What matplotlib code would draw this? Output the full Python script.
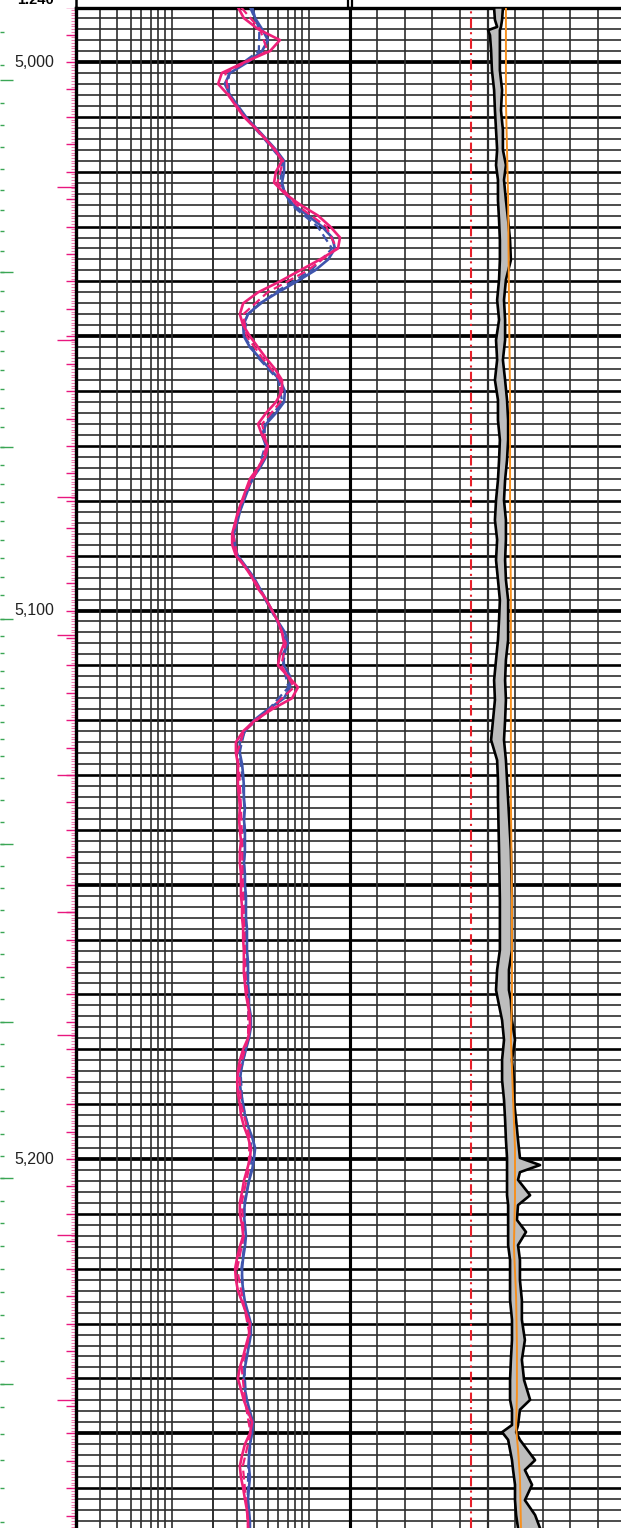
import numpy as np
import matplotlib
matplotlib.use("Agg")
import matplotlib.pyplot as plt
from matplotlib.lines import Line2D

# ---------------- data ----------------
# resistivity curves (ohm-m), sampled every 2 ft
res_depth = np.arange(4990, 5270, 2)
res_deep = [15.2, 16.8, 21.3, 30.8, 26.1, 17.1, 11.6, 10.9, 12.9, 14.7,
            16.8, 20.3, 24.0, 28.4, 31.9, 28.8, 27.9, 33.5, 43.2, 58.4,
            71.7, 84.5, 81.7, 60.4, 43.2, 30.8, 21.3, 16.6, 15.7, 16.6,
            18.6, 21.3, 24.4, 28.4, 31.9, 31.9, 28.8, 24.4, 21.3, 22.8,
            25.2, 24.0, 21.3, 18.6, 17.4, 16.3, 15.2, 14.5, 13.8, 13.8,
            14.7, 17.1, 19.3, 21.3, 24.4, 27.0, 29.8, 31.9, 33.0, 30.8,
            29.8, 35.3, 41.7, 37.7, 27.0, 20.3, 16.6, 14.7, 14.7, 15.2,
            15.2, 15.2, 15.5, 15.7, 15.5, 15.7, 16.0, 15.7, 15.7, 16.0,
            16.0, 16.0, 16.3, 16.3, 16.6, 16.6, 16.8, 16.8, 16.8, 17.1,
            17.4, 18.0, 18.6, 18.6, 18.0, 16.6, 15.7, 15.2, 15.0, 15.2,
            15.7, 16.0, 16.8, 18.0, 18.9, 18.6, 17.7, 16.8, 16.3, 15.7,
            15.7, 16.3, 16.6, 15.7, 15.0, 14.5, 14.7, 15.2, 16.3, 17.4,
            18.6, 18.3, 17.4, 16.6, 15.7, 15.2, 16.0, 16.8, 18.0, 19.3,
            18.6, 17.1, 16.3, 15.7, 16.0, 16.6, 17.1, 17.7, 18.0, 18.0]
res_shallow = [19.3, 20.3, 22.8, 25.2, 22.8, 18.0, 13.3, 12.2, 13.3, 15.2,
               17.4, 20.6, 24.4, 28.8, 33.0, 33.0, 31.9, 33.5, 38.4, 49.4,
               62.5, 74.1, 77.7, 69.3, 55.5, 41.0, 29.8, 22.0, 18.0, 16.6,
               16.8, 18.6, 22.0, 26.1, 30.8, 33.5, 33.0, 28.8, 24.4, 22.8,
               24.4, 24.4, 22.0, 19.3, 18.0, 16.8, 15.7, 15.0, 14.2, 14.2,
               15.2, 17.4, 19.9, 22.0, 24.4, 27.0, 29.8, 33.5, 35.3, 32.4,
               33.0, 36.5, 36.5, 33.0, 25.2, 19.9, 17.1, 15.7, 15.7, 16.3,
               16.6, 16.8, 16.8, 17.1, 16.8, 17.1, 17.1, 17.1, 16.8, 17.1,
               17.1, 17.4, 17.4, 17.4, 17.7, 17.7, 17.7, 18.0, 18.0, 18.0,
               18.3, 18.3, 18.9, 18.9, 18.3, 17.4, 16.6, 16.0, 15.7, 16.0,
               16.6, 17.1, 18.0, 19.3, 20.3, 19.9, 19.3, 18.3, 17.7, 17.1,
               16.8, 17.1, 17.4, 17.1, 16.6, 16.3, 16.3, 16.6, 17.1, 18.0,
               18.9, 18.9, 18.3, 17.7, 17.1, 16.8, 17.1, 17.7, 18.6, 19.6,
               19.3, 18.6, 18.3, 18.3, 18.6, 18.3, 18.0, 18.3, 18.6, 18.6]

dash_depth = [4990, 4994, 4998, 5002, 5006, 5010, 5014, 5018, 5022, 5026,
              5030, 5034, 5038, 5042, 5046, 5050, 5054, 5058, 5062, 5066,
              5070, 5074, 5078, 5082, 5086, 5090, 5094, 5098, 5102, 5106,
              5110, 5114, 5118, 5122, 5126, 5130, 5136, 5142, 5148, 5154,
              5160, 5166, 5172, 5178, 5184, 5190, 5196, 5202, 5208, 5214,
              5220, 5226, 5232, 5238, 5244, 5250, 5256, 5262, 5268]
res_deep_dash = [16.0, 22.0, 25.0, 12.3, 13.0, 17.0, 24.2, 32.5, 29.5, 40.5,
                 67.0, 80.0, 49.0, 25.0, 16.6, 17.6, 23.0, 31.0, 31.0, 22.8,
                 24.8, 21.6, 17.6, 15.4, 14.0, 15.0, 19.6, 24.4, 29.8, 34.0,
                 31.5, 39.0, 26.0, 16.8, 15.0, 15.6, 16.0, 16.3, 16.4, 16.7,
                 17.0, 17.2, 18.2, 18.0, 15.5, 16.0, 18.5, 18.2, 16.2, 16.8,
                 15.0, 16.6, 18.5, 16.2, 17.1, 18.8, 16.5, 17.4, 18.2]
res_shallow_dash = [18.6, 21.8, 21.6, 13.0, 13.1, 17.0, 23.6, 32.0, 31.0, 37.0,
                    58.0, 74.0, 52.0, 28.5, 17.8, 16.9, 21.5, 30.0, 32.0, 23.8,
                    24.0, 21.6, 17.8, 15.6, 14.1, 15.0, 19.4, 24.0, 29.4, 34.5,
                    32.4, 35.5, 25.5, 17.0, 15.6, 16.4, 16.9, 16.9, 16.9, 17.2,
                    17.5, 17.8, 18.1, 18.1, 15.9, 16.4, 19.0, 19.0, 16.9, 17.2,
                    16.1, 16.9, 18.7, 16.9, 17.5, 19.1, 18.1, 17.9, 18.4]

# linear track (0-100 scale): band bounded by two black curves
band_depth = [4990.2, 4992.3, 4993.6, 4994.2, 4995.1, 4997.8, 5001.5, 5005.1, 5008.8, 5012.4,
              5016.0, 5018.8, 5021.5, 5025.2, 5028.8, 5032.5, 5036.1, 5039.7, 5043.4, 5047.0,
              5050.7, 5054.3, 5058.0, 5061.6, 5065.3, 5068.9, 5072.6, 5076.2, 5079.9, 5083.5,
              5087.1, 5090.8, 5094.4, 5098.1, 5101.7, 5105.4, 5109.0, 5112.7, 5116.3, 5120.0,
              5123.6, 5127.3, 5130.9, 5134.5, 5143.7, 5152.8, 5161.9, 5165.5, 5169.2, 5171.0,
              5174.7, 5178.3, 5181.9, 5185.6, 5189.2, 5192.9, 5196.5, 5199.8, 5201.1, 5202.4,
              5203.8, 5206.6, 5208.4, 5211.1, 5213.3, 5215.7, 5218.4, 5222.1, 5225.7, 5229.3,
              5233.0, 5236.6, 5240.3, 5243.9, 5245.7, 5248.5, 5249.8, 5251.2, 5254.9, 5256.7,
              5259.4, 5262.2, 5264.9, 5267.3]
band_left = [52.4, 52.7, 53.5, 50.2, 50.9, 51.3, 51.6, 52.4, 52.7, 53.1,
             53.5, 53.1, 53.8, 53.8, 54.2, 54.5, 54.5, 54.2, 53.5, 54.2,
             53.1, 53.5, 52.7, 53.8, 53.8, 54.5, 54.2, 53.8, 53.1, 52.7,
             53.5, 53.1, 53.8, 54.5, 54.2, 53.8, 53.1, 52.4, 52.7, 52.0,
             51.3, 53.5, 53.8, 53.8, 54.2, 54.5, 54.5, 53.5, 53.1, 53.8,
             55.3, 56.0, 55.3, 55.3, 56.0, 56.4, 56.7, 57.1, 57.1, 57.1,
             57.1, 57.1, 57.5, 57.5, 57.5, 57.5, 58.2, 58.2, 58.2, 58.9,
             58.9, 58.5, 58.2, 58.2, 58.9, 58.9, 55.3, 57.5, 58.9, 59.3,
             60.0, 60.0, 60.4, 61.1]
band_right = [55.6, 55.3, 54.9, 54.5, 54.5, 54.5, 54.5, 55.3, 54.9, 55.6,
              55.6, 56.7, 56.0, 56.7, 57.5, 58.2, 58.5, 56.7, 56.0, 56.4,
              56.4, 55.6, 56.4, 57.1, 57.5, 57.5, 57.1, 56.4, 56.0, 56.7,
              56.7, 56.4, 56.7, 57.5, 57.5, 57.5, 56.7, 56.4, 56.7, 56.4,
              56.0, 56.7, 57.1, 57.5, 58.5, 58.9, 58.9, 57.8, 57.8, 58.5,
              58.9, 60.0, 58.9, 59.6, 59.6, 60.4, 61.1, 61.8, 69.1, 61.8,
              61.1, 65.5, 61.1, 60.7, 64.0, 61.1, 61.8, 61.8, 62.5, 62.5,
              63.6, 62.5, 63.3, 65.5, 61.8, 61.1, 60.4, 61.8, 67.3, 63.6,
              66.2, 63.6, 67.3, 69.1]

orange_depth = [4990, 5007, 5025, 5043, 5061, 5080, 5098, 5116, 5134, 5153,
                5171, 5178, 5189, 5198, 5207, 5216, 5225, 5234, 5243, 5249,
                5253, 5258, 5268]
orange_vals = [56.7, 56.7, 57.5, 57.8, 58.2, 58.2, 58.5, 58.5, 58.5, 58.9,
               58.9, 58.5, 59.3, 60.0, 60.0, 59.6, 60.4, 60.7, 60.7, 60.4,
               61.1, 61.8, 62.2]
cutoff_value = 44

depth_labels = [5000, 5100, 5200]
depth_label_text = ["5,000", "5,100", "5,200"]
pink_long_ticks = [5022.8, 5050.7, 5079.3, 5104.5, 5130.0, 5155.0, 5177.4, 5213.9, 5243.9]
green_ticks = [4994.6, 5000.6, 5007.4, 5011.5, 5015.5, 5019.5, 5023.3, 5027.0, 5030.8,
               5034.5, 5038.2, 5041.8, 5045.4, 5049.0, 5052.6, 5056.1, 5059.6, 5063.1,
               5066.6, 5070.1, 5073.5, 5076.9, 5080.3, 5083.7, 5087.1, 5090.5, 5093.8,
               5097.1, 5101.5, 5104.6, 5107.8, 5111.0, 5114.1, 5117.2, 5120.3, 5123.4,
               5126.5, 5130.6, 5134.6, 5138.6, 5142.6, 5146.6, 5150.6, 5154.6, 5158.6,
               5162.7, 5166.8, 5170.9, 5175.0, 5179.1, 5183.1, 5187.2, 5191.3, 5195.4,
               5199.5, 5203.5, 5207.6, 5211.7, 5215.8, 5220.0, 5224.2, 5228.4, 5232.6,
               5236.8, 5241.0, 5245.2, 5250.2, 5254.8, 5260.0, 5266.2]
green_long = [5003.3, 5038.2, 5070.1, 5101.5, 5142.6, 5175.0, 5203.5, 5241.0]

# ---------------- figure ----------------
W, H = 621, 1528
fig = plt.figure(figsize=(W / 100, H / 100), dpi=100)
top_px = 8
top_frac = (H - top_px) / H
d_top, d_bot = 4990.155, 5267.27

ax_dep = fig.add_axes([0, 0, 76 / W, top_frac])
ax_log = fig.add_axes([76 / W, 0, 274 / W, top_frac])
ax_lin = fig.add_axes([350 / W, 0, 275 / W, top_frac])

for ax in (ax_dep, ax_log, ax_lin):
    ax.set_ylim(d_bot, d_top)
    ax.set_xticks([])
    ax.set_yticks([])
    ax.set_facecolor("none")
    ax.patch.set_alpha(0)

ax_dep.set_xlim(0, 76)
ax_dep.axis("off")

ax_log.set_xscale("log")
ax_log.set_xlim(1, 100)
ax_log.minorticks_off()
ax_log.set_xticks([])
ax_lin.set_xlim(0, 100)

gcol = "#2e2e2e"
# horizontal grid
for ax in (ax_log, ax_lin):
    for d in range(4990, 5268, 2):
        if d % 50 == 0:
            lw = 2.7
        elif d % 10 == 0:
            lw = 1.9
        else:
            lw = 1.2
        ax.axhline(d, color=gcol if d % 10 else "black", lw=lw, zorder=1)

# vertical grid - log track
for dec in (1, 10):
    for m in (1.5, 2, 2.5, 3, 3.5, 4, 4.5, 5):
        ax_log.axvline(dec * m, color=gcol, lw=1.2, zorder=1)
ax_log.axvline(10, color=gcol, lw=1.4, zorder=1)
# vertical grid - linear track
for v in range(10, 100, 10):
    ax_lin.axvline(v, color=gcol, lw=1.6 if v == 50 else 1.2, zorder=1)

for ax in (ax_log, ax_lin):
    for s in ax.spines.values():
        s.set_visible(False)
ax_log.spines["left"].set_visible(True)
ax_log.spines["left"].set_linewidth(2.4)
ax_log.spines["right"].set_visible(True)
ax_log.spines["right"].set_linewidth(2.2)
ax_lin.spines["left"].set_visible(True)
ax_lin.spines["left"].set_linewidth(2.2)
for ax in (ax_log, ax_lin):
    ax.spines["top"].set_visible(True)
    ax.spines["top"].set_linewidth(2.4)

# resistivity curves
pink = "#ee2079"
blue = "#3f55ad"
ax_log.plot(res_shallow, res_depth, color=blue, lw=1.9, zorder=4)
ax_log.plot(res_shallow_dash, dash_depth, color=blue, lw=1.6, ls=(0, (4, 2)), zorder=4)
ax_log.plot(res_deep_dash, dash_depth, color=pink, lw=1.6, ls=(0, (4, 2)), zorder=5)
ax_log.plot(res_deep, res_depth, color=pink, lw=1.9, zorder=5)

# linear track curves
ax_lin.axvline(cutoff_value, color="#e8202a", lw=1.5, ls=(0, (5, 2, 1, 2)), zorder=3)
ax_lin.fill_betweenx(band_depth, band_left, band_right, color="#bdbdbd", lw=0, zorder=3)
ax_lin.plot(band_left, band_depth, color="black", lw=1.9, zorder=4)
ax_lin.plot(band_right, band_depth, color="black", lw=1.9, zorder=4)
ax_lin.plot(orange_vals, orange_depth, color="#f7901e", lw=1.4, zorder=5)

# depth track
pink_t = "#e8177f"
for d in np.arange(4990, 5268, 0.5):
    ax_dep.plot([71, 76], [d, d], color="#f27db3", lw=0.8, solid_capstyle="butt")
for d in range(4990, 5268, 5):
    ax_dep.plot([66, 76], [d, d], color=pink_t, lw=1.0, solid_capstyle="butt")
for d in pink_long_ticks:
    ax_dep.plot([57, 76], [d, d], color=pink_t, lw=1.0, solid_capstyle="butt")
for d in green_ticks:
    ax_dep.plot([0, 4], [d, d], color="#3aa655", lw=1.0, solid_capstyle="butt")
for d in green_long:
    ax_dep.plot([0, 13], [d, d], color="#3aa655", lw=1.0, solid_capstyle="butt")
for d, t in zip(depth_labels, depth_label_text):
    ax_dep.text(54, d, t, ha="right", va="center", fontsize=11.5,
                family="Liberation Sans", color="#222222")

# header strip (partially visible header label, cut by the top edge as in the source)
fig.text(35 / W, 1 - 4 / H, "1.240", ha="center", va="baseline", fontsize=10.5,
         fontweight="bold", family="Liberation Sans")
for xp, lw in ((76, 1.8), (348, 1.6), (352, 1.6)):
    fig.add_artist(Line2D([xp / W, xp / W], [top_frac, 1], color="black", lw=lw))

fig.savefig("out.png", dpi=100)
